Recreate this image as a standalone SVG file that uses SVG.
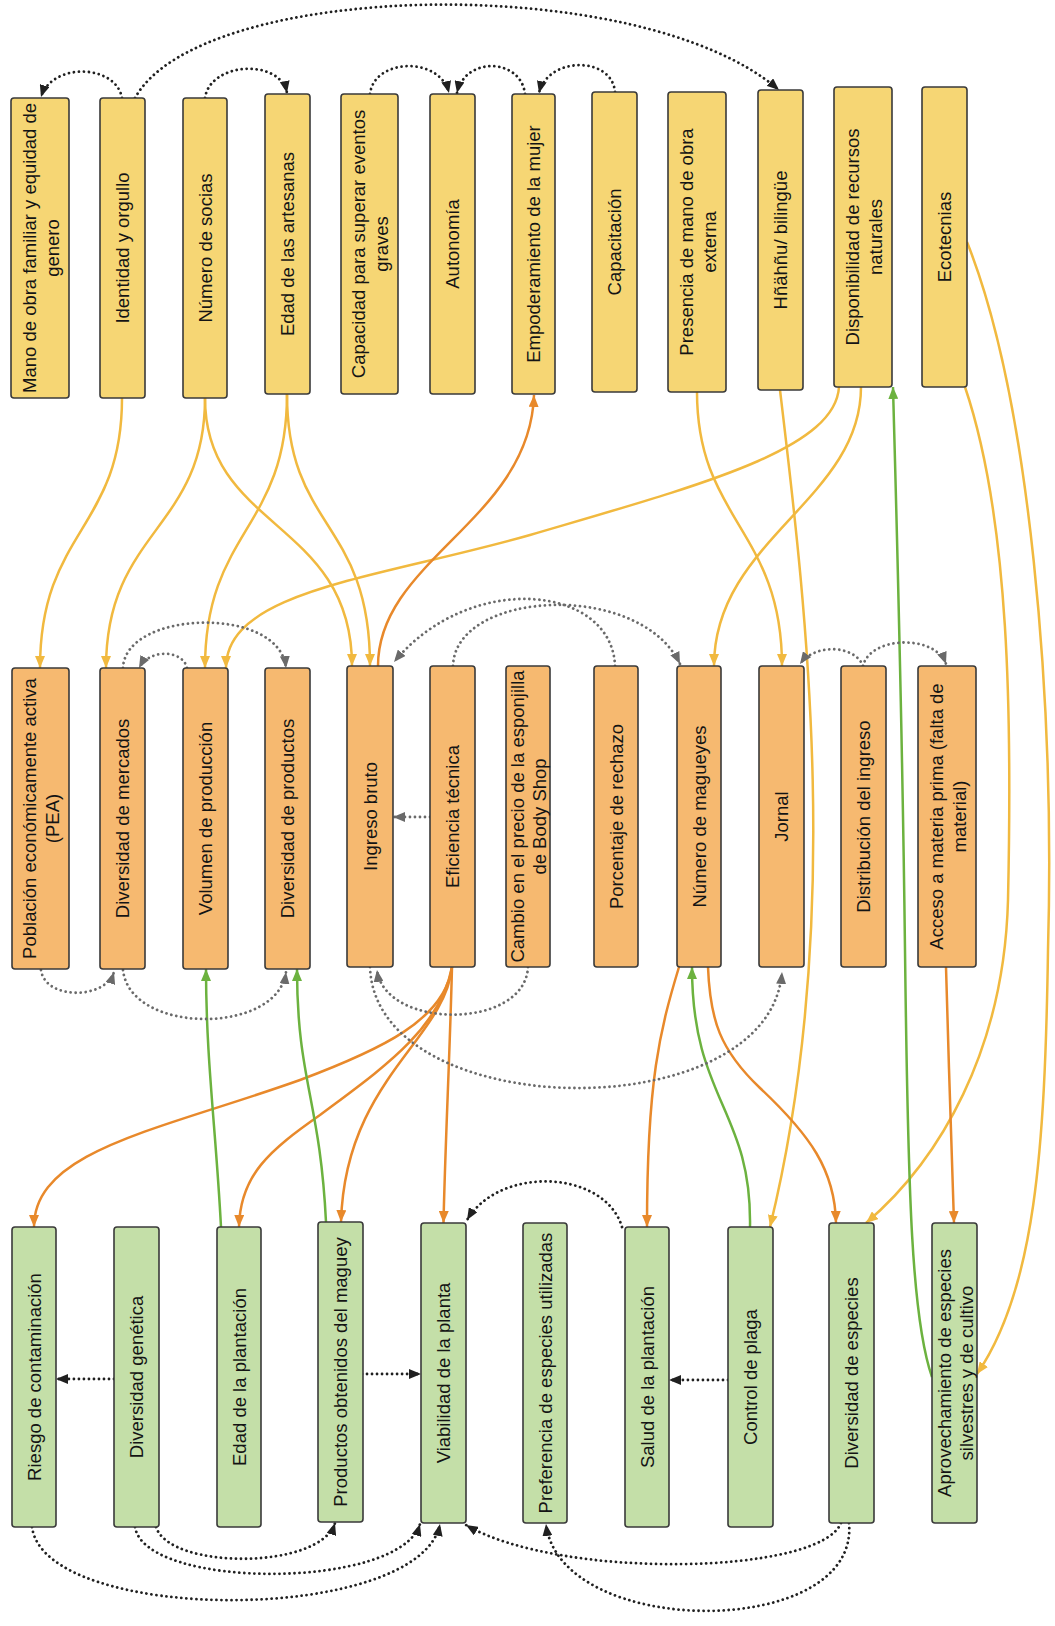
<svg xmlns="http://www.w3.org/2000/svg" width="1055" height="1626" viewBox="0 0 1055 1626">
  <style>
    .box { stroke: #3a3a3a; stroke-width: 1.6; }
    .yel .box { fill: #F6D674; }
    .ora .box { fill: #F6B970; }
    .grn .box { fill: #C4DFA8; }
    .lbl { font-family: "Liberation Sans", Arial, sans-serif; font-size: 18.5px; fill: #141414; text-anchor: middle; dominant-baseline: central; }
    .c { fill: none; }
    .cy { stroke: #F1B93F; stroke-width: 2.5; marker-end: url(#ah-y); }
    .co { stroke: #E8892B; stroke-width: 2.5; marker-end: url(#ah-o); }
    .cg { stroke: #6CB23F; stroke-width: 2.5; marker-end: url(#ah-g); }
    .dk { stroke: #202020; stroke-width: 2.8; stroke-dasharray: 0.01 5; stroke-linecap: round; marker-end: url(#ah-k); }
    .dg { stroke: #6a6a6a; stroke-width: 2.8; stroke-dasharray: 0.01 5; stroke-linecap: round; marker-end: url(#ah-gr); }
  </style>
  <defs>
    <marker id="ah-y" markerWidth="12" markerHeight="10" refX="12" refY="5" orient="auto" markerUnits="userSpaceOnUse"><path d="M0,0 L12,5 L0,10 z" fill="#F1B93F"/></marker>
    <marker id="ah-o" markerWidth="12" markerHeight="10" refX="12" refY="5" orient="auto" markerUnits="userSpaceOnUse"><path d="M0,0 L12,5 L0,10 z" fill="#E8892B"/></marker>
    <marker id="ah-g" markerWidth="12" markerHeight="10" refX="12" refY="5" orient="auto" markerUnits="userSpaceOnUse"><path d="M0,0 L12,5 L0,10 z" fill="#6CB23F"/></marker>
    <marker id="ah-k" markerWidth="12" markerHeight="10" refX="12" refY="5" orient="auto" markerUnits="userSpaceOnUse"><path d="M0,0 L12,5 L0,10 z" fill="#202020"/></marker>
    <marker id="ah-gr" markerWidth="12" markerHeight="10" refX="12" refY="5" orient="auto" markerUnits="userSpaceOnUse"><path d="M0,0 L12,5 L0,10 z" fill="#6a6a6a"/></marker>
  </defs>
  <rect width="1055" height="1626" fill="#ffffff"/>

  <!-- Connectors -->
  <g id="connectors">
    <!-- top row: dotted influences -->
    <path class="c dk" d="M122,98 C116,64 52,62 41,97"/>
    <path class="c dk" d="M135,98 C200,-20 640,-30 779,90"/>
    <path class="c dk" d="M205,98 C210,62 280,58 287,93"/>
    <path class="c dk" d="M370,94 C374,58 440,56 449,93"/>
    <path class="c dk" d="M525,94 C521,58 465,56 457,93"/>
    <path class="c dk" d="M615,92 C612,56 548,56 539,93"/>

    <!-- top row to middle row (yellow) -->
    <path class="c cy" d="M122,398 C122,530 40,530 40,668"/>
    <path class="c cy" d="M205,398 C205,530 106,530 106,668"/>
    <path class="c cy" d="M205,398 C205,530 352,520 352,666"/>
    <path class="c cy" d="M287,394 C287,530 205,530 205,668"/>
    <path class="c cy" d="M287,394 C287,530 370,520 370,666"/>
    <path class="c cy" d="M839,387 C835,450 700,485 530,535 C380,578 226,590 226,668"/>
    <path class="c cy" d="M861,387 C861,500 714,540 714,666"/>
    <path class="c cy" d="M697,392 C697,520 782,530 782,666"/>
    <path class="c cy" d="M780,390 C805,600 845,920 770,1227"/>
    <path class="c cy" d="M965,387 C1010,520 1012,720 1008,900 C1004,1050 940,1160 866,1223"/>
    <path class="c cy" d="M967,242 C1030,400 1055,700 1048,950 C1045,1150 1035,1290 977,1374"/>

    <!-- orange links -->
    <path class="c co" d="M378,666 C378,560 530,520 534,395"/>
    <path class="c co" d="M452,967 C445,1020 380,1050 300,1080 C160,1130 34,1150 34,1227"/>
    <path class="c co" d="M452,967 C440,1030 380,1070 320,1115 C270,1150 240,1175 239,1227"/>
    <path class="c co" d="M452,967 C445,1040 345,1080 341,1222"/>
    <path class="c co" d="M452,967 C450,1050 445,1150 443.5,1223"/>
    <path class="c co" d="M679,967 C660,1030 647,1080 647,1227"/>
    <path class="c co" d="M708,967 C710,1020 720,1050 760,1088 C810,1135 835,1170 836,1223"/>
    <path class="c co" d="M946,967 C948,1050 952,1150 954,1223"/>

    <!-- green links -->
    <path class="c cg" d="M221,1227 C216,1130 206,1060 206,969"/>
    <path class="c cg" d="M326,1222 C320,1100 297,1080 297,969"/>
    <path class="c cg" d="M750,1227 C752,1110 692,1100 692,967"/>
    <path class="c cg" d="M932,1377 C912,1320 908,1200 905,950 C902,700 896,500 893,387"/>

    <!-- middle row: grey dotted -->
    <path class="c dg" d="M123,668 C125,610 280,605 286,668"/>
    <path class="c dg" d="M187,668 C183,650 150,648 139,668"/>
    <path class="c dg" d="M615,666 C612,585 470,570 394,662"/>
    <path class="c dg" d="M453,666 C455,590 640,580 680,664"/>
    <path class="c dg" d="M863,666 C855,645 815,643 800,664"/>
    <path class="c dg" d="M863,666 C870,636 935,634 946,664"/>
    <path class="c dg" d="M430,817 L393,817"/>
    <path class="c dg" d="M41,970 C45,1000 105,1000 114,972"/>
    <path class="c dg" d="M123,970 C130,1035 278,1035 286,972"/>
    <path class="c dg" d="M528,967 C525,1030 385,1030 377,970"/>
    <path class="c dg" d="M370,967 C375,1125 770,1130 782,972"/>

    <!-- bottom row: dotted influences -->
    <path class="c dk" d="M114,1379 L56,1379"/>
    <path class="c dk" d="M362,1374 L421,1374"/>
    <path class="c dk" d="M728,1380 L669,1380"/>
    <path class="c dk" d="M622,1227 C605,1170 500,1165 467,1220"/>
    <path class="c dk" d="M156,1527 C170,1570 320,1570 335,1523"/>
    <path class="c dk" d="M135,1527 C145,1590 400,1590 420,1524"/>
    <path class="c dk" d="M32,1527 C45,1625 420,1625 440,1524"/>
    <path class="c dk" d="M841,1523 C820,1575 560,1580 466,1525"/>
    <path class="c dk" d="M849,1523 C860,1640 560,1640 546,1524"/>
  </g>

  <!-- Top row: social factors -->
  <g id="n-mano-obra-familiar" class="yel"><rect class="box" x="11" y="98" width="58" height="300" rx="3"/>
    <text class="lbl" transform="translate(40,248) rotate(-90)"><tspan x="0" y="-11.5">Mano de obra familiar y equidad de</tspan><tspan x="0" y="11.5">genero</tspan></text></g>
  <g id="n-identidad" class="yel"><rect class="box" x="100" y="98" width="45" height="300" rx="3"/>
    <text class="lbl" transform="translate(122.5,248) rotate(-90)">Identidad y orgullo</text></g>
  <g id="n-numero-socias" class="yel"><rect class="box" x="183" y="98" width="44" height="300" rx="3"/>
    <text class="lbl" transform="translate(205,248) rotate(-90)">Número de socias</text></g>
  <g id="n-edad-artesanas" class="yel"><rect class="box" x="265" y="94" width="45" height="300" rx="3"/>
    <text class="lbl" transform="translate(287.5,244) rotate(-90)">Edad de las artesanas</text></g>
  <g id="n-capacidad" class="yel"><rect class="box" x="341" y="94" width="57" height="300" rx="3"/>
    <text class="lbl" transform="translate(369.5,244) rotate(-90)"><tspan x="0" y="-11.5">Capacidad para superar eventos</tspan><tspan x="0" y="11.5">graves</tspan></text></g>
  <g id="n-autonomia" class="yel"><rect class="box" x="430" y="94" width="45" height="300" rx="3"/>
    <text class="lbl" transform="translate(452.5,244) rotate(-90)">Autonomía</text></g>
  <g id="n-empoderamiento" class="yel"><rect class="box" x="512" y="94" width="43" height="300" rx="3"/>
    <text class="lbl" transform="translate(533.5,244) rotate(-90)">Empoderamiento de la mujer</text></g>
  <g id="n-capacitacion" class="yel"><rect class="box" x="592" y="92" width="45" height="300" rx="3"/>
    <text class="lbl" transform="translate(614.5,242) rotate(-90)">Capacitación</text></g>
  <g id="n-mano-obra-externa" class="yel"><rect class="box" x="668" y="92" width="58" height="300" rx="3"/>
    <text class="lbl" transform="translate(697,242) rotate(-90)"><tspan x="0" y="-11.5">Presencia de mano de obra</tspan><tspan x="0" y="11.5">externa</tspan></text></g>
  <g id="n-hnahnu" class="yel"><rect class="box" x="758" y="90" width="45" height="300" rx="3"/>
    <text class="lbl" transform="translate(780.5,240) rotate(-90)">Hñähñu/ bilingüe</text></g>
  <g id="n-recursos" class="yel"><rect class="box" x="834" y="87" width="58" height="300" rx="3"/>
    <text class="lbl" transform="translate(863,237) rotate(-90)"><tspan x="0" y="-11.5">Disponibilidad de recursos</tspan><tspan x="0" y="11.5">naturales</tspan></text></g>
  <g id="n-ecotecnias" class="yel"><rect class="box" x="922" y="87" width="45" height="300" rx="3"/>
    <text class="lbl" transform="translate(944.5,237) rotate(-90)">Ecotecnias</text></g>

  <!-- Middle row: economic factors -->
  <g id="n-pea" class="ora"><rect class="box" x="12" y="668" width="57" height="301" rx="3"/>
    <text class="lbl" transform="translate(40.5,818.5) rotate(-90)"><tspan x="0" y="-11.5">Población económicamente activa</tspan><tspan x="0" y="11.5">(PEA)</tspan></text></g>
  <g id="n-div-mercados" class="ora"><rect class="box" x="100" y="668" width="45" height="301" rx="3"/>
    <text class="lbl" transform="translate(122.5,818.5) rotate(-90)">Diversidad de mercados</text></g>
  <g id="n-volumen" class="ora"><rect class="box" x="183" y="668" width="45" height="301" rx="3"/>
    <text class="lbl" transform="translate(205.5,818.5) rotate(-90)">Volumen de producción</text></g>
  <g id="n-div-productos" class="ora"><rect class="box" x="265" y="668" width="45" height="301" rx="3"/>
    <text class="lbl" transform="translate(287.5,818.5) rotate(-90)">Diversidad de productos</text></g>
  <g id="n-ingreso" class="ora"><rect class="box" x="347" y="666" width="46" height="301" rx="3"/>
    <text class="lbl" transform="translate(370,816.5) rotate(-90)">Ingreso bruto</text></g>
  <g id="n-eficiencia" class="ora"><rect class="box" x="430" y="666" width="45" height="301" rx="3"/>
    <text class="lbl" transform="translate(452.5,816.5) rotate(-90)">Eficiencia técnica</text></g>
  <g id="n-precio" class="ora"><rect class="box" x="506" y="666" width="44" height="301" rx="3"/>
    <text class="lbl" transform="translate(528,816.5) rotate(-90)"><tspan x="0" y="-11">Cambio en el precio de la esponjilla</tspan><tspan x="0" y="11">de Body Shop</tspan></text></g>
  <g id="n-rechazo" class="ora"><rect class="box" x="594" y="666" width="44" height="301" rx="3"/>
    <text class="lbl" transform="translate(616,816.5) rotate(-90)">Porcentaje de rechazo</text></g>
  <g id="n-magueyes" class="ora"><rect class="box" x="677" y="666" width="44" height="301" rx="3"/>
    <text class="lbl" transform="translate(699,816.5) rotate(-90)">Número de magueyes</text></g>
  <g id="n-jornal" class="ora"><rect class="box" x="759" y="666" width="45" height="301" rx="3"/>
    <text class="lbl" transform="translate(781.5,816.5) rotate(-90)">Jornal</text></g>
  <g id="n-distribucion" class="ora"><rect class="box" x="841" y="666" width="45" height="301" rx="3"/>
    <text class="lbl" transform="translate(863.5,816.5) rotate(-90)">Distribución del ingreso</text></g>
  <g id="n-materia-prima" class="ora"><rect class="box" x="918" y="666" width="58" height="301" rx="3"/>
    <text class="lbl" transform="translate(947,816.5) rotate(-90)"><tspan x="0" y="-11.5">Acceso a materia prima (falta de</tspan><tspan x="0" y="11.5">material)</tspan></text></g>

  <!-- Bottom row: ecological factors -->
  <g id="n-contaminacion" class="grn"><rect class="box" x="12" y="1227" width="44" height="300" rx="3"/>
    <text class="lbl" transform="translate(34,1377) rotate(-90)">Riesgo de contaminación</text></g>
  <g id="n-div-genetica" class="grn"><rect class="box" x="114" y="1227" width="45" height="300" rx="3"/>
    <text class="lbl" transform="translate(136.5,1377) rotate(-90)">Diversidad genética</text></g>
  <g id="n-edad-plantacion" class="grn"><rect class="box" x="217" y="1227" width="44" height="300" rx="3"/>
    <text class="lbl" transform="translate(239,1377) rotate(-90)">Edad de la plantación</text></g>
  <g id="n-productos-maguey" class="grn"><rect class="box" x="318" y="1222" width="45" height="300" rx="3"/>
    <text class="lbl" transform="translate(340.5,1372) rotate(-90)">Productos obtenidos del maguey</text></g>
  <g id="n-viabilidad" class="grn"><rect class="box" x="421" y="1223" width="45" height="300" rx="3"/>
    <text class="lbl" transform="translate(443.5,1373) rotate(-90)">Viabilidad de la planta</text></g>
  <g id="n-preferencia" class="grn"><rect class="box" x="523" y="1223" width="44" height="300" rx="3"/>
    <text class="lbl" transform="translate(545,1373) rotate(-90)">Preferencia de especies utilizadas</text></g>
  <g id="n-salud" class="grn"><rect class="box" x="625" y="1227" width="44" height="300" rx="3"/>
    <text class="lbl" transform="translate(647,1377) rotate(-90)">Salud de la plantación</text></g>
  <g id="n-plaga" class="grn"><rect class="box" x="728" y="1227" width="45" height="300" rx="3"/>
    <text class="lbl" transform="translate(750.5,1377) rotate(-90)">Control de plaga</text></g>
  <g id="n-div-especies" class="grn"><rect class="box" x="829" y="1223" width="45" height="300" rx="3"/>
    <text class="lbl" transform="translate(851.5,1373) rotate(-90)">Diversidad de especies</text></g>
  <g id="n-aprovechamiento" class="grn"><rect class="box" x="932" y="1223" width="45" height="300" rx="3"/>
    <text class="lbl" transform="translate(955,1373) rotate(-90)"><tspan x="0" y="-11">Aprovechamiento de especies</tspan><tspan x="0" y="11">silvestres y de cultivo</tspan></text></g>
</svg>
